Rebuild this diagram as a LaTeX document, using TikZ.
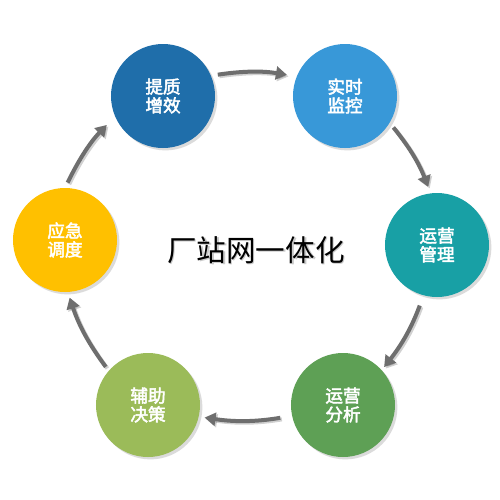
\documentclass[tikz,border=0pt]{standalone}
\usepackage{fontspec}
\newfontfamily\cjk{Noto Sans CJK SC}
\newfontfamily\cjkb[FakeBold=2.6]{Noto Sans CJK SC}
\usetikzlibrary{arrows.meta,shadows}
\definecolor{cA}{HTML}{1F6EAA}
\definecolor{cB}{HTML}{3898D8}
\definecolor{cC}{HTML}{18A0A5}
\definecolor{cD}{HTML}{5EA055}
\definecolor{cE}{HTML}{9BBB59}
\definecolor{cF}{HTML}{FFC000}
\definecolor{arr}{HTML}{6E6E6E}
\tikzset{
  stage/.style={circle, minimum size=52pt, inner sep=0pt, outer sep=0pt, text=white,
    align=center, font=\cjkb\fontsize{8.8}{9.4}\selectfont,
    drop shadow={shadow xshift=1.2pt, shadow yshift=-1.2pt, opacity=0.28}},
  flow/.style={draw=arr, line width=2pt, -{Triangle[length=5.5pt,width=6.5pt]}, bend left=9,
    preaction={draw=black, opacity=0.18, line width=2pt, -{Triangle[length=5.5pt,width=6.5pt]},
      transform canvas={shift={(0.8pt,-0.8pt)}}}}
}
\begin{document}
\begin{tikzpicture}[x=0.5pt,y=-0.5pt]
\useasboundingbox[fill=white] (0,0) rectangle (500,500);
\node[stage, fill=cA] (tz) at (163,96) {提质\\增效};
\node[stage, fill=cB] (ss) at (345,96) {实时\\监控};
\node[stage, fill=cC] (gl) at (437,245) {运营\\管理};
\node[stage, fill=cD] (fx) at (343,405) {运营\\分析};
\node[stage, fill=cE] (jc) at (148,405) {辅助\\决策};
\node[stage, fill=cF] (dd) at (65,240) {应急\\调度};
\node[text=black!35, opacity=0.6, font=\cjk\fontsize{14.8}{16}\selectfont] (titleshadow) at (257.5,251.5) {厂站网一体化};
\node[text=black, font=\cjk\fontsize{14.8}{16}\selectfont] (title) at (256,250) {厂站网一体化};
\draw[flow, shorten <=3.5pt, shorten >=5pt] (tz.23) to (ss.158);
\draw[flow, shorten <=3pt, shorten >=3.5pt] (ss.-31) to (gl.97);
\draw[flow, shorten <=5.5pt, shorten >=2pt] (gl.-105) to (fx.42);
\draw[flow, shorten <=6pt, shorten >=3pt] (fx.-168) to (jc.-13);
\draw[flow, shorten <=2.5pt, shorten >=3pt] (jc.139) to (dd.-87);
\draw[flow, shorten <=3pt, shorten >=6pt] (dd.90) to (tz.-157);
\end{tikzpicture}
\end{document}
